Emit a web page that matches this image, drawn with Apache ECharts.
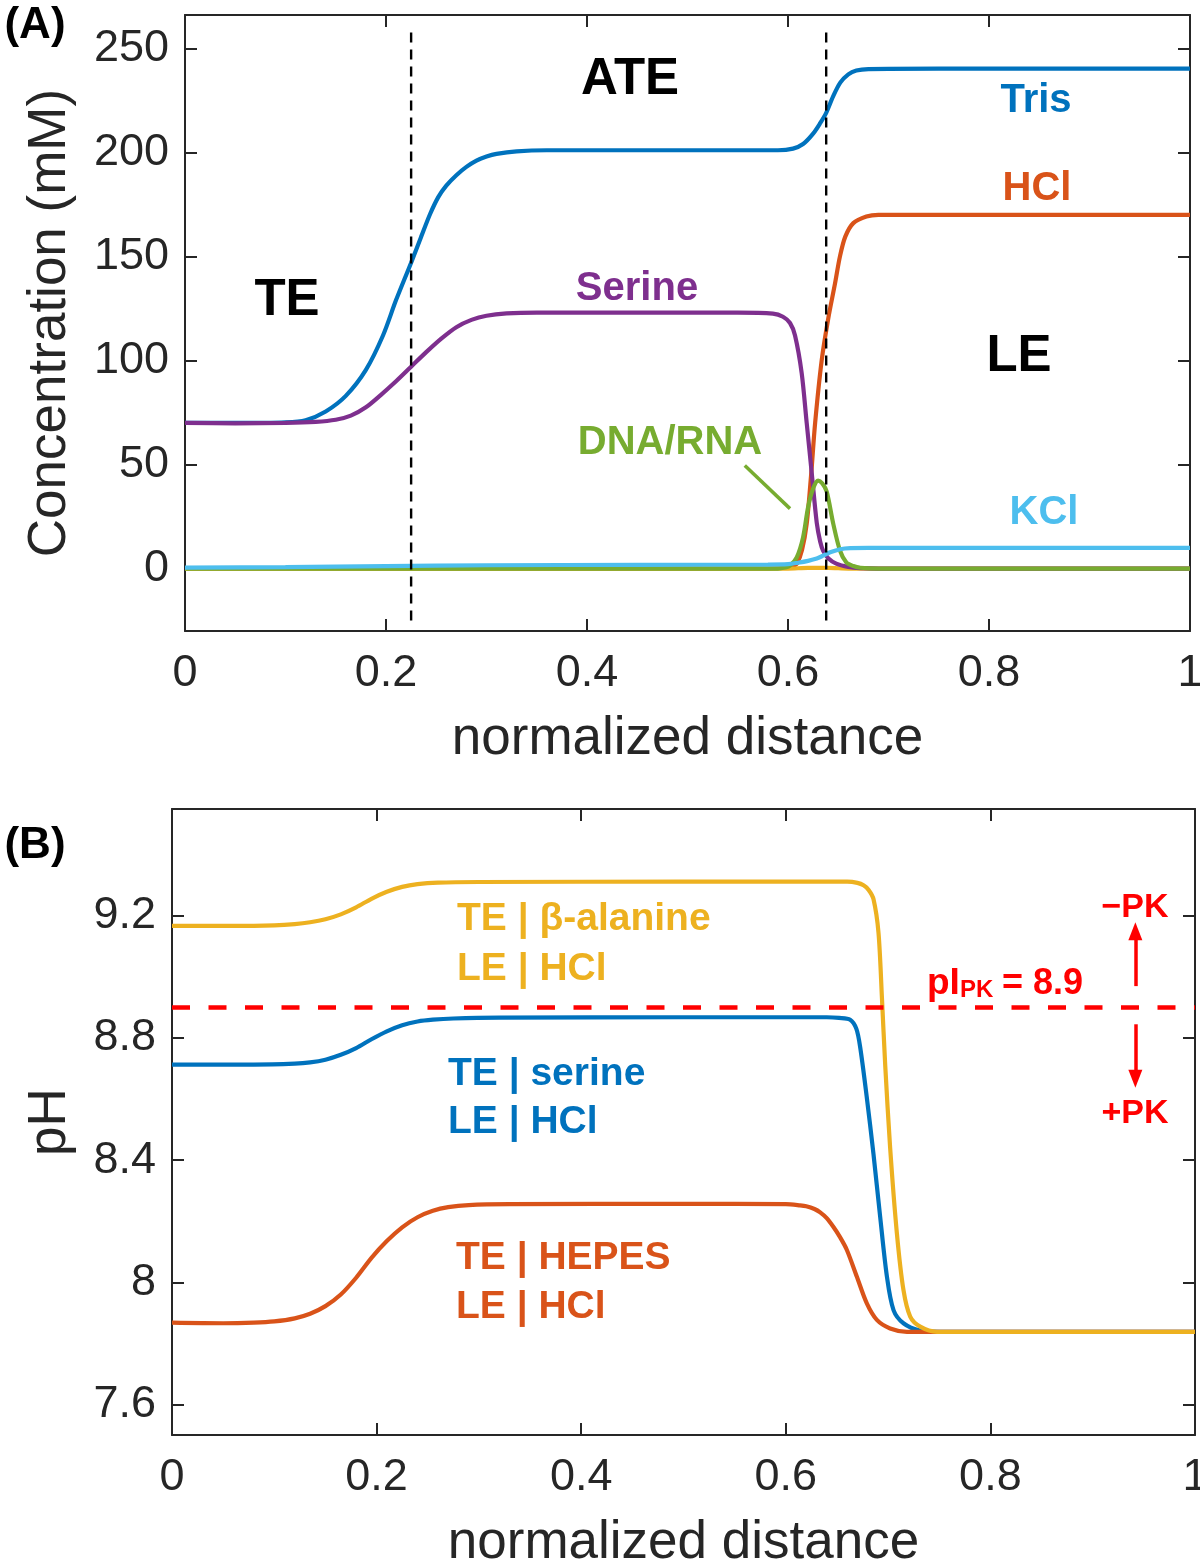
<!DOCTYPE html>
<html><head><meta charset="utf-8">
<script src="https://cdn.jsdelivr.net/npm/echarts@6/dist/echarts.min.js"></script>
<style>html,body{margin:0;padding:0;background:#fff}#c{width:1200px;height:1562px}</style>
</head><body><div id="c"></div>
<script>
const FONT = '"Liberation Sans", Arial, Helvetica, sans-serif';
const AXC = '#262626';

// ---------- Panel A: concentration (mM) vs normalized distance ----------
const xTicks = [0, 0.2, 0.4, 0.6, 0.8, 1];
const concTicks = [0, 50, 100, 150, 200, 250];
const pHTicks = [7.6, 8, 8.4, 8.8, 9.2];

const tris = [[0,70],[0.05,70],[0.1,70.3],[0.12,71.3],[0.14,75.5],[0.16,83],[0.18,95.5],[0.197,112],[0.21,129],[0.225,147],[0.235,159.5],[0.244,170.5],[0.252,178.5],[0.26,184],[0.27,189],[0.28,193],[0.29,196],[0.3,198],[0.31,199.3],[0.33,200.5],[0.36,201],[0.5,201],[0.59,201],[0.605,201.8],[0.615,204],[0.625,209],[0.632,214],[0.638,219],[0.645,227],[0.652,233.5],[0.66,237.5],[0.668,239.3],[0.68,240],[0.75,240.2],[1,240.2]];
const hcl = [[0,0],[0.58,0],[0.6,0.5],[0.605,1.2],[0.609,2.5],[0.614,9],[0.6186,21.5],[0.623,45],[0.627,70],[0.6335,100],[0.64,120],[0.6468,137],[0.6517,150],[0.657,159.5],[0.665,166],[0.678,169.2],[0.69,170],[1,170]];
const otherSpecies = [[0,0],[0.6,0],[0.62,0.3],[0.64,0.3],[0.66,0],[1,0]];
const serine = [[0,70],[0.05,69.8],[0.1,70],[0.13,70.5],[0.15,71.5],[0.165,73.5],[0.18,77.5],[0.195,83.5],[0.21,90],[0.225,97],[0.24,104],[0.255,110.5],[0.27,116],[0.285,119.5],[0.3,121.5],[0.32,122.6],[0.35,123],[0.45,123],[0.55,123],[0.585,122.5],[0.595,121],[0.602,118],[0.607,112],[0.6136,94],[0.6186,70],[0.6236,46],[0.6286,22],[0.632,13],[0.635,8.5],[0.64,5],[0.648,2.4],[0.66,0.8],[0.672,0.2],[0.69,0],[1,0]];
const dnaRna = [[0,0],[0.59,0],[0.597,0.5],[0.602,1.4],[0.6087,5.4],[0.615,15],[0.62,29.5],[0.625,38.5],[0.63,42.3],[0.634,41],[0.6385,37],[0.645,21.6],[0.6517,8.7],[0.658,3],[0.665,1.2],[0.672,0.4],[0.69,0],[1,0]];
const kcl = [[0,0.5],[0.1,0.7],[0.2,1.2],[0.3,1.6],[0.45,1.8],[0.58,1.9],[0.6,2.1],[0.61,2.8],[0.62,3.7],[0.6286,4.8],[0.635,6.2],[0.642,7.8],[0.652,9.3],[0.662,9.8],[0.68,9.9],[1,9.9]];
const zoneBoundaries = [0.225, 0.638];
const boundaryYRange = [-25, 261];
const dnaLeader = [[0.557,49.5],[0.602,28.8]];

// ---------- Panel B: pH vs normalized distance ----------
const pHSerine = [[0,8.713],[0.08,8.713],[0.12,8.716],[0.135,8.72],[0.15,8.729],[0.165,8.745],[0.18,8.767],[0.195,8.796],[0.21,8.822],[0.225,8.842],[0.24,8.854],[0.255,8.86],[0.275,8.864],[0.32,8.867],[0.5,8.868],[0.64,8.868],[0.652,8.866],[0.6629,8.86],[0.669,8.83],[0.6727,8.77],[0.679,8.61],[0.6857,8.42],[0.6922,8.216],[0.6988,8.02],[0.7053,7.909],[0.715,7.866],[0.7314,7.842],[0.75,7.838],[1,7.838]];
const pHHepes = [[0,7.868],[0.05,7.866],[0.08,7.868],[0.1,7.872],[0.12,7.882],[0.135,7.897],[0.15,7.922],[0.165,7.96],[0.18,8.015],[0.195,8.08],[0.21,8.135],[0.225,8.18],[0.24,8.213],[0.255,8.234],[0.27,8.246],[0.29,8.253],[0.33,8.256],[0.5,8.257],[0.6,8.256],[0.614,8.252],[0.62,8.249],[0.628,8.24],[0.6336,8.229],[0.64,8.21],[0.6466,8.181],[0.653,8.148],[0.6597,8.106],[0.6694,8.019],[0.6792,7.931],[0.689,7.877],[0.702,7.849],[0.7184,7.838],[1,7.838]];
const pHBetaAlanine = [[0,9.167],[0.06,9.167],[0.1,9.169],[0.12,9.173],[0.135,9.179],[0.15,9.189],[0.165,9.205],[0.18,9.228],[0.195,9.256],[0.21,9.279],[0.225,9.295],[0.24,9.304],[0.26,9.309],[0.3,9.311],[0.5,9.312],[0.66,9.312],[0.67,9.308],[0.676,9.3],[0.681,9.285],[0.6857,9.255],[0.6906,9.145],[0.694,8.93],[0.6972,8.71],[0.702,8.44],[0.7086,8.16],[0.715,7.975],[0.7216,7.888],[0.7314,7.855],[0.7477,7.838],[0.8,7.838],[1,7.838]];
const pIPK = 8.9;
const arrowX = 0.9417;
const arrowUp = [8.97, 9.15];
const arrowDown = [8.845, 8.667];

const BLUE='#0072BD', ORANGE='#D95319', YELLOW='#EDB120', PURPLE='#7E2F8E', GREEN='#77AC30', CYAN='#4DBEEE', RED='#FF0000';

function xAx(grid, pos, labels, name) {
  return {
    type:'value', gridIndex:grid, position:pos, min:0, max:1, interval:0.2,
    axisLine:{show:true, onZero:false, lineStyle:{color:AXC, width:2}},
    axisTick:{show:true, inside:true, length:12, lineStyle:{color:AXC, width:2}},
    axisLabel:{show:labels, fontSize:45, color:AXC, fontFamily:FONT, margin:20},
    splitLine:{show:false},
    name: name || '', nameLocation:'middle', nameGap:82,
    nameTextStyle:{fontSize:53, color:AXC, fontFamily:FONT}
  };
}
function yAx(grid, pos, labels, min, max, ticks, name, gap) {
  return {
    type:'value', gridIndex:grid, position:pos, min:min, max:max,
    axisLine:{show:true, onZero:false, lineStyle:{color:AXC, width:2}},
    axisTick:{show:true, inside:true, length:12, customValues:ticks, lineStyle:{color:AXC, width:2}},
    axisLabel:{show:labels, customValues:ticks, fontSize:45, color:AXC, fontFamily:FONT, margin:16},
    splitLine:{show:false},
    name: name || '', nameLocation:'middle', nameGap:gap || 0,
    nameTextStyle:{fontSize:53, color:AXC, fontFamily:FONT}
  };
}
function ln(data, color, xi, yi, width, extra) {
  return Object.assign({
    type:'line', data:data, xAxisIndex:xi, yAxisIndex:yi, showSymbol:false, symbol:'none',
    smooth:0.3, lineStyle:{color:color, width:width||4.2}, itemStyle:{color:color},
    z:2, silent:true
  }, extra||{});
}

const boundaryLines = [];
zoneBoundaries.forEach(v => {
  boundaryLines.push([v, boundaryYRange[0]], [v, boundaryYRange[1]], [v, null]);
});

const series = [
  ln(tris, BLUE, 0, 0),
  ln(hcl, ORANGE, 0, 0),
  ln(otherSpecies, YELLOW, 0, 0),
  ln(serine, PURPLE, 0, 0),
  ln(dnaRna, GREEN, 0, 0),
  ln(kcl, CYAN, 0, 0),
  ln(boundaryLines, '#000', 0, 0, 2.2,
     {smooth:false, connectNulls:false, lineStyle:{color:'#000', width:2.4, type:[10,7]}}),
  ln(dnaLeader, GREEN, 0, 0, 3.5, {smooth:false}),
  ln(pHSerine, BLUE, 2, 2),
  ln(pHHepes, ORANGE, 2, 2),
  ln(pHBetaAlanine, YELLOW, 2, 2),
  ln([[0,pIPK],[1,pIPK]], RED, 2, 2, 4.5, {smooth:false, lineStyle:{color:RED, width:4.5, type:[18,18.5]},
    markLine:{silent:true, symbol:['none','triangle'], symbolSize:[14,18], label:{show:false},
      lineStyle:{color:RED, width:3.5, type:'solid'},
      data:[
        [{coord:[arrowX, arrowUp[0]]},{coord:[arrowX, arrowUp[1]]}],
        [{coord:[arrowX, arrowDown[0]]},{coord:[arrowX, arrowDown[1]]}]
      ]}})
];

function T(x, y, text, color, size, align) {
  return {type:'text', x:x, y:y, z:100, style:{text:text, fill:color, font:'bold '+size+'px '+FONT,
    align:align||'center', verticalAlign:'middle'}};
}

const graphic = [
  T(35, 26, '(A)', '#000', 44),
  T(630, 80, 'ATE', '#000', 51),
  T(287, 301, 'TE', '#000', 51),
  T(1019, 357, 'LE', '#000', 51),
  T(1036, 101, 'Tris', BLUE, 40),
  T(1037, 189, 'HCl', ORANGE, 40),
  T(637, 289, 'Serine', PURPLE, 40),
  T(670, 443, 'DNA/RNA', GREEN, 40),
  T(1044, 513, 'KCl', CYAN, 40),
  T(35, 846, '(B)', '#000', 44),
  T(457, 919, 'TE | β-alanine', YELLOW, 39, 'left'),
  T(457, 969, 'LE | HCl', YELLOW, 39, 'left'),
  T(448, 1074, 'TE | serine', BLUE, 39, 'left'),
  T(448, 1122, 'LE | HCl', BLUE, 39, 'left'),
  T(456, 1258, 'TE | HEPES', ORANGE, 39, 'left'),
  T(456, 1307, 'LE | HCl', ORANGE, 39, 'left'),
  T(927, 984, 'pI', RED, 37, 'left'),
  T(960, 990, 'PK', RED, 24, 'left'),
  T(1002, 984, '= 8.9', RED, 36, 'left'),
  T(1135, 908, '\u2212PK', RED, 34),
  T(1135, 1114, '+PK', RED, 34)
];

const option = {
  animation:false,
  backgroundColor:'#fff',
  textStyle:{fontFamily:FONT},
  grid:[
    {left:185, top:15, width:1005, height:616, containLabel:false, outerBoundsMode:'none'},
    {left:172, top:809, width:1023, height:626, containLabel:false, outerBoundsMode:'none'}
  ],
  xAxis:[
    xAx(0,'bottom',true,'normalized distance'),
    xAx(0,'top',false),
    xAx(1,'bottom',true,'normalized distance'),
    xAx(1,'top',false)
  ],
  yAxis:[
    yAx(0,'left',true,-30,266,concTicks,'Concentration (mM)',108),
    yAx(0,'right',false,-30,266,concTicks),
    yAx(1,'left',true,7.5,9.55,pHTicks,'pH',95),
    yAx(1,'right',false,7.5,9.55,pHTicks)
  ],
  series:series,
  graphic:graphic
};
const chart = echarts.init(document.getElementById('c'), null, {renderer:'canvas'});
chart.setOption(option);
</script></body></html>
